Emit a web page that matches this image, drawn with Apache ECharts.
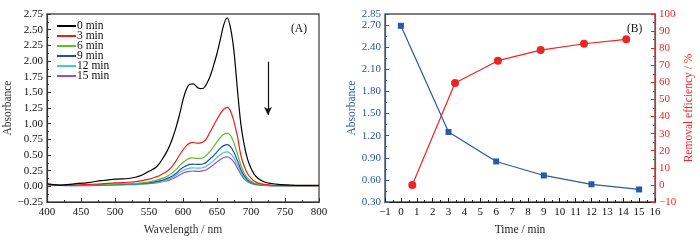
<!DOCTYPE html>
<html>
<head>
<meta charset="utf-8">
<script src="https://cdn.jsdelivr.net/npm/echarts@6/dist/echarts.min.js"></script>
<style>
  html, body { margin: 0; padding: 0; background: #fff; }
  #chart { width: 700px; height: 241px; }
</style>
</head>
<body>
<div id="chart"></div>
<script>
// (A) UV-vis spectra
const wavelengths = [400,420,440,460,480,500,520,530,540,550,
  560,565,570,575,580,585,590,595,600,605,610,615,620,625,630,635,640,645,650,655,660,665,670,675,680,685,690,695,700,
  705,710,720,730,740,760,780,800];
const spec0 = [0.04,0.02,0.04,0.06,0.09,0.115,0.125,0.145,0.18,0.24,
  0.3,0.36,0.44,0.53,0.64,0.78,0.95,1.15,1.38,1.55,1.63,1.635,1.59,1.56,1.565,1.64,1.76,1.93,2.12,2.35,2.58,2.69,2.52,2.15,1.55,1.0,0.66,0.43,0.29,
  0.19,0.13,0.07,0.045,0.03,0.02,0.015,0.015];
const spec3 = [0.03,0.015,0.02,0.03,0.04,0.055,0.065,0.075,0.09,0.115,
  0.15,0.17,0.2,0.23,0.27,0.33,0.41,0.5,0.58,0.65,0.69,0.70,0.69,0.69,0.71,0.77,0.87,0.97,1.07,1.16,1.23,1.26,1.2,1.03,0.8,0.5,0.32,0.2,0.13,
  0.08,0.055,0.03,0.02,0.015,0.012,0.01,0.01];
const spec6 = [0.03,0.015,0.015,0.02,0.025,0.035,0.04,0.045,0.055,0.07,
  0.095,0.11,0.13,0.15,0.18,0.22,0.27,0.33,0.38,0.42,0.45,0.455,0.445,0.445,0.46,0.5,0.56,0.63,0.71,0.78,0.83,0.85,0.81,0.69,0.52,0.34,0.21,0.13,0.08,
  0.05,0.035,0.02,0.015,0.012,0.01,0.01,0.01];
const spec9 = [0.03,0.015,0.015,0.018,0.022,0.03,0.035,0.04,0.045,0.055,
  0.075,0.088,0.1,0.12,0.14,0.17,0.21,0.26,0.3,0.33,0.35,0.355,0.35,0.35,0.36,0.39,0.44,0.49,0.55,0.61,0.65,0.665,0.63,0.54,0.41,0.27,0.17,0.1,0.065,
  0.04,0.03,0.018,0.012,0.01,0.01,0.01,0.01];
const spec12 = [0.03,0.015,0.012,0.015,0.02,0.025,0.03,0.033,0.04,0.05,
  0.065,0.075,0.085,0.1,0.12,0.145,0.18,0.22,0.25,0.275,0.29,0.295,0.29,0.29,0.3,0.325,0.365,0.41,0.46,0.505,0.54,0.55,0.52,0.45,0.34,0.23,0.14,0.085,0.055,
  0.035,0.025,0.015,0.012,0.01,0.01,0.01,0.01];
const spec15 = [0.035,0.015,0.01,0.012,0.015,0.02,0.025,0.028,0.033,0.042,
  0.055,0.063,0.073,0.085,0.1,0.12,0.15,0.18,0.21,0.23,0.24,0.245,0.24,0.24,0.25,0.27,0.305,0.345,0.39,0.43,0.46,0.47,0.445,0.385,0.29,0.195,0.12,0.075,0.048,
  0.032,0.022,0.014,0.011,0.01,0.01,0.01,0.01];
const specNames = ['0 min', '3 min', '6 min', '9 min', '12 min', '15 min'];
const specColors = ['#000000', '#f01c1c', '#5cbf2e', '#1f4fae', '#45c6e0', '#a24fb3'];

// (B) absorbance and removal efficiency vs time
const times = [0, 3, 6, 9, 12, 15];
const absorbance = [2.69, 1.25, 0.85, 0.66, 0.54, 0.47];
const effTimes = [0.72, 3.41, 6.11, 8.8, 11.53, 14.19];
const efficiency = [0, 59.6, 72.7, 78.9, 82.6, 85.2];

const FONT = '"Liberation Serif", "Times New Roman", serif';
const BLUE = '#2a58a8';
const RED = '#ee2424';
const minus = v => String(v).replace('-', '\u2212');

const chart = echarts.init(document.getElementById('chart'));
const pairs = (xs, ys) => xs.map((x, i) => [x, ys[i]]);
const specs = [spec0, spec3, spec6, spec9, spec12, spec15];

const tickStyle = color => ({
  axisLine: { show: true, onZero: false, lineStyle: { color: color, width: 1.2 } },
  axisTick: { show: true, inside: true, length: 4, lineStyle: { color: color } },
  minorTick: { show: true, splitNumber: 2, length: 2, lineStyle: { color: color } },
  splitLine: { show: false },
  nameTextStyle: { fontFamily: FONT, fontSize: 11.5, color: color }
});

const option = {
  animation: false,
  textStyle: { fontFamily: FONT },
  grid: [
    { left: 47, top: 14, width: 272, height: 188, show: true, borderColor: '#555', borderWidth: 1.4 },
    { left: 385, top: 14, width: 270, height: 188, show: true, borderColor: '#555', borderWidth: 1.4 }
  ],
  legend: {
    data: specNames,
    left: 52, top: 15, orient: 'vertical',
    icon: 'rect', itemWidth: 19, itemHeight: 2, itemGap: -2,
    textStyle: { fontFamily: FONT, fontSize: 11.5, color: '#111', padding: [0, 0, 0, -4] }
  },
  xAxis: [
    Object.assign(tickStyle('#333'), {
      type: 'value', gridIndex: 0, min: 400, max: 800, interval: 50,
      name: 'Wavelength / nm', nameLocation: 'middle', nameGap: 22,
      axisLabel: { fontFamily: FONT, fontSize: 11, color: '#111', margin: 5 }
    }),
    Object.assign(tickStyle('#222'), {
      type: 'value', gridIndex: 1, min: -1, max: 16, interval: 1,
      name: 'Time / min', nameLocation: 'middle', nameGap: 22,
      axisLabel: { fontFamily: FONT, fontSize: 11, color: '#111', margin: 5, formatter: minus }
    })
  ],
  yAxis: [
    Object.assign(tickStyle('#333'), {
      type: 'value', gridIndex: 0, min: -0.25, max: 2.75, interval: 0.25,
      name: 'Absorbance', nameLocation: 'middle', nameGap: 33, nameRotate: 90,
      axisLabel: { fontFamily: FONT, fontSize: 11, color: '#111', margin: 4, formatter: v => minus(v.toFixed(2)) }
    }),
    Object.assign(tickStyle(BLUE), {
      type: 'value', gridIndex: 1, min: 0.3, max: 2.85, interval: 0.3,
      name: 'Absorbance', nameLocation: 'middle', nameGap: 27, nameRotate: 90,
      axisLabel: { fontFamily: FONT, fontSize: 11, color: BLUE, margin: 4, formatter: v => v.toFixed(2) }
    }),
    Object.assign(tickStyle(RED), {
      type: 'value', gridIndex: 1, position: 'right', min: -10, max: 100, interval: 10,
      name: 'Removal efficiency / %', nameLocation: 'middle', nameGap: 28, nameRotate: 90,
      axisLabel: { fontFamily: FONT, fontSize: 11, color: RED, margin: 4, formatter: minus }
    })
  ],
  series: specs.map((s, i) => ({
    name: specNames[i], type: 'line', xAxisIndex: 0, yAxisIndex: 0,
    data: pairs(wavelengths, s), smooth: 0.3, symbol: 'none',
    lineStyle: { color: specColors[i], width: 1.2 }, itemStyle: { color: specColors[i] },
    z: 10 - i,
    markLine: i === 0 ? {
      silent: true, symbol: ['none', 'arrow'], symbolSize: [6, 8],
      label: { show: false },
      lineStyle: { color: '#111', width: 1.2, type: 'solid' },
      data: [[{ coord: [725, 1.99] }, { coord: [725, 1.14] }]]
    } : undefined
  })).concat([
    {
      name: 'Absorbance', type: 'line', xAxisIndex: 1, yAxisIndex: 1,
      data: pairs(times, absorbance), symbol: 'rect', symbolSize: 6,
      lineStyle: { color: BLUE, width: 1.2 }, itemStyle: { color: BLUE }
    },
    {
      name: 'Removal efficiency', type: 'line', xAxisIndex: 1, yAxisIndex: 2,
      data: pairs(effTimes, efficiency), symbol: 'circle', symbolSize: 8,
      lineStyle: { color: RED, width: 1.2 }, itemStyle: { color: RED }
    }
  ]),
  graphic: [
    { type: 'text', left: 291, top: 23, style: { text: '(A)', font: '11.5px ' + FONT, fill: '#111' } },
    { type: 'text', left: 627, top: 23, style: { text: '(B)', font: '11.5px ' + FONT, fill: '#111' } }
  ]
};

chart.setOption(option);
</script>
</body>
</html>
